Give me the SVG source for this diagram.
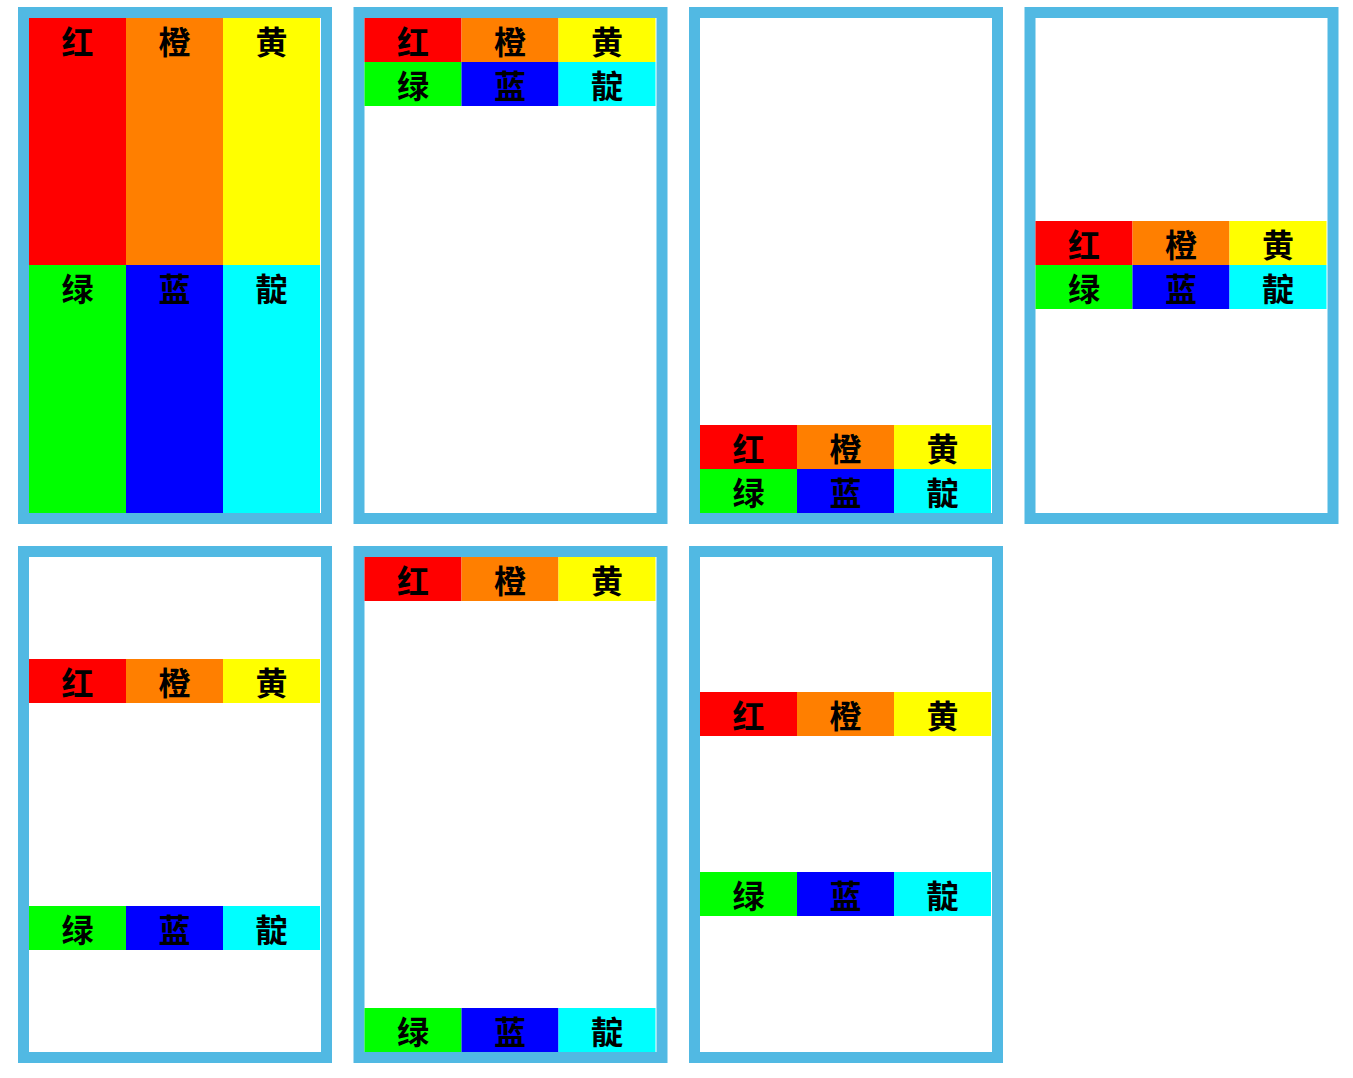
<svg xmlns="http://www.w3.org/2000/svg" width="1353" height="1078" viewBox="0 0 1353 1078">
<style>
.frame{fill:#fff;stroke:#51b9e3;stroke-width:11}
.t{font-family:"Noto Sans CJK SC","Noto Sans",sans-serif;font-weight:bold;font-size:32px;fill:#000;text-anchor:middle;dominant-baseline:central}
.r{fill:#ff0000}.o{fill:#ff7f00}.y{fill:#ffff00}.g{fill:#00ff00}.b{fill:#0000ff}.c{fill:#00ffff}
</style>
<defs>
<g id="row1">
<rect class="r" x="0" y="0" width="97" height="44"/>
<rect class="o" x="97" y="0" width="97" height="44"/>
<rect class="y" x="194" y="0" width="97" height="44"/>
<text class="t" x="48.5" y="22">红</text>
<text class="t" x="145.5" y="22">橙</text>
<text class="t" x="242.5" y="22">黄</text>
</g>
<g id="row2">
<rect class="g" x="0" y="0" width="97" height="44"/>
<rect class="b" x="97" y="0" width="97" height="44"/>
<rect class="c" x="194" y="0" width="97" height="44"/>
<text class="t" x="48.5" y="22">绿</text>
<text class="t" x="145.5" y="22">蓝</text>
<text class="t" x="242.5" y="22">靛</text>
</g>
</defs>
<g id="panel1">
<rect class="frame" x="23.5" y="12.5" width="303" height="506"/>
<rect class="r" x="29" y="18" width="97" height="247"/>
<rect class="o" x="126" y="18" width="97" height="247"/>
<rect class="y" x="223" y="18" width="97" height="247"/>
<rect class="g" x="29" y="265" width="97" height="248"/>
<rect class="b" x="126" y="265" width="97" height="248"/>
<rect class="c" x="223" y="265" width="97" height="248"/>
<text class="t" x="77.5" y="40">红</text>
<text class="t" x="174.5" y="40">橙</text>
<text class="t" x="271.5" y="40">黄</text>
<text class="t" x="77.5" y="287">绿</text>
<text class="t" x="174.5" y="287">蓝</text>
<text class="t" x="271.5" y="287">靛</text>
</g>
<g id="panel2">
<rect class="frame" x="359" y="12.5" width="303" height="506"/>
<use href="#row1" x="364.5" y="18"/>
<use href="#row2" x="364.5" y="62"/>
</g>
<g id="panel3">
<rect class="frame" x="694.5" y="12.5" width="303" height="506"/>
<use href="#row1" x="700" y="425"/>
<use href="#row2" x="700" y="469"/>
</g>
<g id="panel4">
<rect class="frame" x="1030" y="12.5" width="303" height="506"/>
<use href="#row1" x="1035.5" y="221"/>
<use href="#row2" x="1035.5" y="265"/>
</g>
<g id="panel5">
<rect class="frame" x="23.5" y="551.5" width="303" height="506"/>
<use href="#row1" x="29" y="659"/>
<use href="#row2" x="29" y="906"/>
</g>
<g id="panel6">
<rect class="frame" x="359" y="551.5" width="303" height="506"/>
<use href="#row1" x="364.5" y="557"/>
<use href="#row2" x="364.5" y="1008"/>
</g>
<g id="panel7">
<rect class="frame" x="694.5" y="551.5" width="303" height="506"/>
<use href="#row1" x="700" y="692"/>
<use href="#row2" x="700" y="872"/>
</g>
<g id="connectors"/>
</svg>
